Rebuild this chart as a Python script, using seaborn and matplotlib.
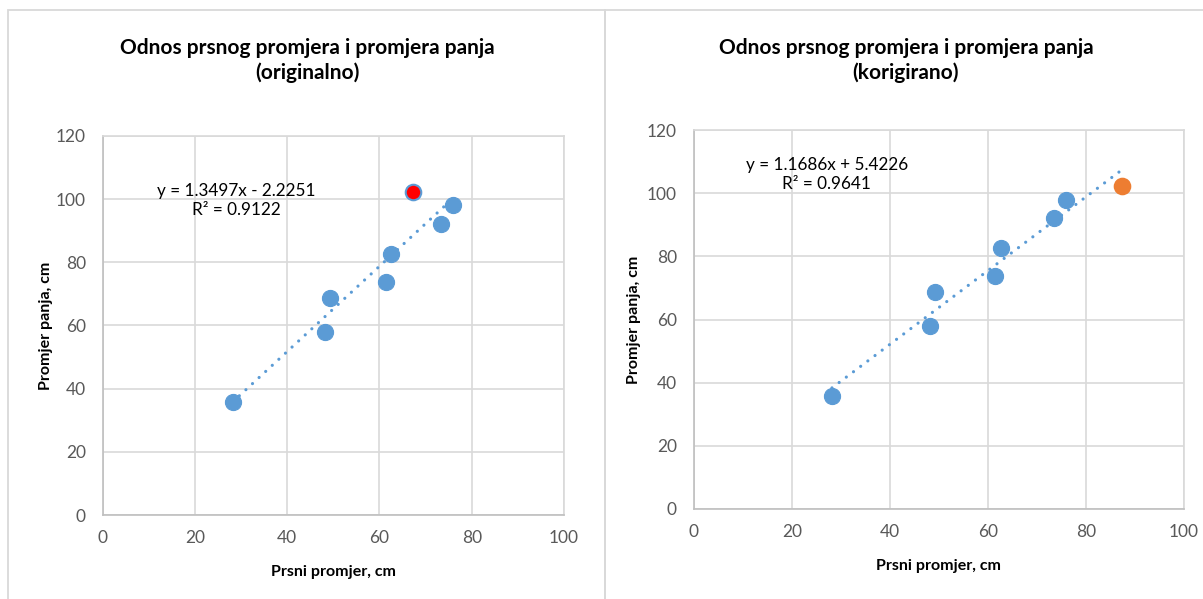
import numpy as np
import pandas as pd
import matplotlib
matplotlib.use("Agg")
import matplotlib.pyplot as plt
import seaborn as sns
from matplotlib.patches import Rectangle

# ---------------- data ----------------
prsni_promjer = [28.2, 48.2, 49.3, 61.5, 62.6, 73.4, 76.0]
promjer_panja = [35.8, 58.0, 68.8, 73.9, 82.7, 92.1, 98.0]
outlier_x_original = [67.3]
outlier_x_korigirano = [87.4]
outlier_y = [102.4]

titles = ["Odnos prsnog promjera i promjera panja\n(originalno)",
          "Odnos prsnog promjera i promjera panja\n(korigirano)"]
equations = ["y = 1.3497x - 2.2251\nR² = 0.9122",
             "y = 1.1686x + 5.4226\nR² = 0.9641"]
x_ticks = [0, 20, 40, 60, 80, 100]
y_ticks = [0, 20, 40, 60, 80, 100, 120]
x_label = "Prsni promjer, cm"
y_label = "Promjer panja, cm"

# ---------------- style ----------------
sns.set_style("white")
plt.rcParams['font.family'] = ['Lato', 'DejaVu Sans']

BLUE = '#5B9BD5'
GRID = '#D9D9D9'
TICK = '#595959'

def make_df(ox):
    return pd.DataFrame({
        'x': prsni_promjer + ox,
        'y': promjer_panja + outlier_y,
        'tip': ['normal'] * len(prsni_promjer) + ['outlier'] * len(ox),
    })

df_list = [make_df(outlier_x_original), make_df(outlier_x_korigirano)]
outlier_colors = ['#FF0000', '#ED7D31']
outlier_edges = [BLUE, '#ED7D31']

fig = plt.figure(figsize=(12.03, 5.99), dpi=100)

# chart-area borders
fig.add_artist(Rectangle((8 / 1203, -0.05), (605 - 8) / 1203, 1 - 10 / 599 + 0.05,
                         transform=fig.transFigure, fill=False, edgecolor=GRID, lw=1.3))
fig.add_artist(Rectangle((605 / 1203, -0.05), (1203 - 605) / 1203 + 0.01, 1 - 10 / 599 + 0.05,
                         transform=fig.transFigure, fill=False, edgecolor=GRID, lw=1.3))

axes_pos = [[0.0853, 0.1402, 0.3835, 0.6328], [0.5766, 0.1506, 0.4077, 0.632]]
title_x = [307 / 1203, 906 / 1203]
eq_pos = [(29.0, 99.6), (27.1, 106.05)]

for i in range(2):
    ax = fig.add_axes(axes_pos[i])
    df = df_list[i]
    normal = df[df.tip == 'normal']
    outl = df[df.tip == 'outlier']
    sns.regplot(data=df, x='x', y='y', scatter=False, ci=None, truncate=True, ax=ax,
                line_kws=dict(color=BLUE, lw=2.3, linestyle=(0, (0.01, 2.8)),
                              dash_capstyle='round', zorder=1))
    sns.scatterplot(data=normal, x='x', y='y', color=BLUE, edgecolor=BLUE, s=135,
                    linewidth=0.8, ax=ax, zorder=3, legend=False)
    sns.scatterplot(data=outl, x='x', y='y', color=outlier_colors[i], edgecolor=outlier_edges[i],
                    s=125, linewidth=1.5, ax=ax, zorder=3, legend=False)

    ax.set_xlim(0, 100)
    ax.set_ylim(0, 120)
    ax.set_xticks(x_ticks)
    ax.set_yticks(y_ticks)
    ax.grid(True, color=GRID, lw=1.2)
    ax.set_axisbelow(True)
    for s in ax.spines.values():
        s.set_color(GRID)
        s.set_linewidth(1.2)
    ax.spines['left'].set_color('#BFBFBF')
    ax.spines['bottom'].set_color('#BFBFBF')
    ax.tick_params(axis='both', length=0, labelsize=12.5, labelcolor=TICK)
    ax.tick_params(axis='x', pad=11)
    ax.tick_params(axis='y', pad=12)
    ax.set_xlabel(x_label, fontsize=11.5, fontweight='bold', color='black')
    ax.set_ylabel(y_label, fontsize=11.5, fontweight='bold', color='black')
    ax.xaxis.set_label_coords(0.5, -0.133)
    ax.yaxis.set_label_coords(-0.108, 0.5)

    ax.text(eq_pos[i][0], eq_pos[i][1], equations[i], ha='center', va='center',
            fontsize=12.3, color='black', linespacing=1.2, zorder=4)

    fig.text(title_x[i], 0.899, titles[i], ha='center', va='center', fontsize=15,
             fontweight='bold', color='black', linespacing=1.3)

fig.savefig('out.png', dpi=100, facecolor='white')
